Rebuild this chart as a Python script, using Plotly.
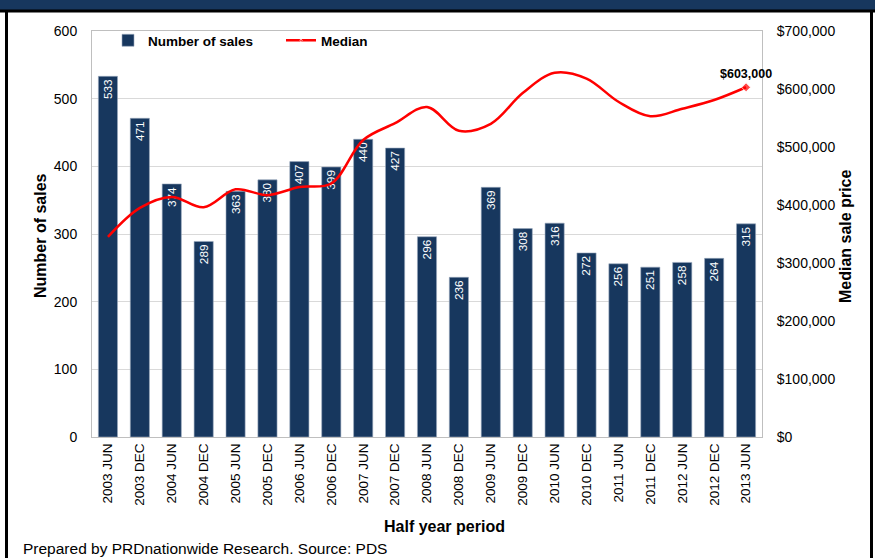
import plotly.graph_objects as go

periods = ["2003 JUN", "2003 DEC", "2004 JUN", "2004 DEC", "2005 JUN", "2005 DEC",
           "2006 JUN", "2006 DEC", "2007 JUN", "2007 DEC", "2008 JUN", "2008 DEC",
           "2009 JUN", "2009 DEC", "2010 JUN", "2010 DEC", "2011 JUN", "2011 DEC",
           "2012 JUN", "2012 DEC", "2013 JUN"]
sales = [533, 471, 374, 289, 363, 380, 407, 399, 440, 427, 296, 236,
         369, 308, 316, 272, 256, 251, 258, 264, 315]
median = [345000, 395000, 414000, 396000, 427000, 417000, 431000, 437000, 512000, 541000,
          569000, 528000, 540000, 593000, 628000, 618000, 578000, 553000, 566000, 581000, 603000]
last_label = "$603,000"

W, H = 875, 558
L, R, T, B = 92, 113, 31, 121
PW, PH = W - L - R, H - T - B


def px(x):
    return (x - L) / PW


def py(y):
    return (H - B - y) / PH


FONT = "Liberation Sans, Arial, sans-serif"
NAVY = "#17375E"

fig = go.Figure()
fig.add_trace(go.Bar(
    x=periods, y=sales, name="Number of sales",
    marker=dict(color=NAVY, line=dict(color="#9aa9bd", width=0.6)),
    width=0.6,
    text=[str(v) for v in sales], textposition="inside", insidetextanchor="end",
    textangle=-90, textfont=dict(color="white", size=13.5, family=FONT),
    yaxis="y",
))
fig.add_trace(go.Scatter(
    x=periods, y=median, name="Median", yaxis="y2",
    mode="lines+markers",
    line=dict(color="#FF0000", width=2.5, shape="spline", smoothing=1.0),
    marker=dict(symbol="diamond", color="#FF0000",
                size=[0] * (len(median) - 1) + [7]),
))

fig.add_annotation(x=periods[-1], y=median[-1], yref="y2", text="<b>" + last_label + "</b>",
                   showarrow=False, yshift=13, xshift=0, xanchor="center", yanchor="middle",
                   font=dict(size=12.5, family=FONT, color="black"))

# axis titles
fig.add_annotation(xref="paper", yref="paper", x=px(40), y=py(236), text="<b>Number of sales</b>",
                   textangle=-90, showarrow=False, xanchor="center", yanchor="middle",
                   font=dict(size=16, family=FONT, color="black"))
fig.add_annotation(xref="paper", yref="paper", x=px(846), y=py(237), text="<b>Median sale price</b>",
                   textangle=-90, showarrow=False, xanchor="center", yanchor="middle",
                   font=dict(size=16, family=FONT, color="black"))
fig.add_annotation(xref="paper", yref="paper", x=px(444), y=py(526), text="<b>Half year period</b>",
                   showarrow=False, xanchor="center", yanchor="middle",
                   font=dict(size=16, family=FONT, color="black"))
fig.add_annotation(xref="paper", yref="paper", x=px(21), y=py(548), xanchor="left", yanchor="middle",
                   text="Prepared by PRDnationwide Research. Source: PDS",
                   showarrow=False, font=dict(size=15.5, family=FONT, color="black"))

# frame
fig.add_shape(type="rect", xref="paper", yref="paper", x0=px(0), x1=px(W), y0=py(0), y1=py(10),
              fillcolor="#17375E", line_width=0, layer="above")
fig.add_shape(type="line", xref="paper", yref="paper", x0=px(0), x1=px(W), y0=py(11), y1=py(11),
              line=dict(color="black", width=3))
fig.add_shape(type="line", xref="paper", yref="paper", x0=px(6.5), x1=px(6.5), y0=py(10), y1=py(H),
              line=dict(color="black", width=3))
fig.add_shape(type="line", xref="paper", yref="paper", x0=px(871.5), x1=px(871.5), y0=py(10), y1=py(H),
              line=dict(color="black", width=3))

fig.update_layout(
    width=W, height=H,
    margin=dict(l=L, r=R, t=T, b=B, pad=0, autoexpand=False),
    paper_bgcolor="white", plot_bgcolor="white",
    font=dict(family=FONT, size=14, color="black"),
    showlegend=True,
    legend=dict(orientation="h", x=px(108), y=py(25), xanchor="left", yanchor="top",
                font=dict(size=13.5, family=FONT, color="black", weight="bold"),
                bgcolor="rgba(0,0,0,0)", itemwidth=30, tracegroupgap=0,
                entrywidth=128, entrywidthmode="pixels"),
    bargap=0.4,
    xaxis=dict(tickangle=-90, showline=True, linecolor="#bfbfbf", linewidth=1,
               mirror=True, ticks="", tickfont=dict(size=13.5, family=FONT),
               showgrid=False, automargin=False, range=[-0.5, len(periods) - 0.5],
               autorange=False),
    yaxis=dict(range=[0, 600], dtick=100, showgrid=True, gridcolor="#d9d9d9",
               showline=True, linecolor="#bfbfbf", linewidth=1, ticks="",
               zeroline=False, tickfont=dict(size=14, family=FONT), ticklabelstandoff=11,
               automargin=False),
    yaxis2=dict(range=[0, 700000], dtick=100000, overlaying="y", side="right",
                tickformat="$,.0f", showgrid=False, showline=True, linecolor="#bfbfbf",
                linewidth=1, ticks="", zeroline=False, tickfont=dict(size=14, family=FONT),
                ticklabelstandoff=11, automargin=False),
)

fig.write_html("out.html", config={"displayModeBar": False},
               post_script="document.body.style.margin='0';document.body.style.overflow='hidden';")
